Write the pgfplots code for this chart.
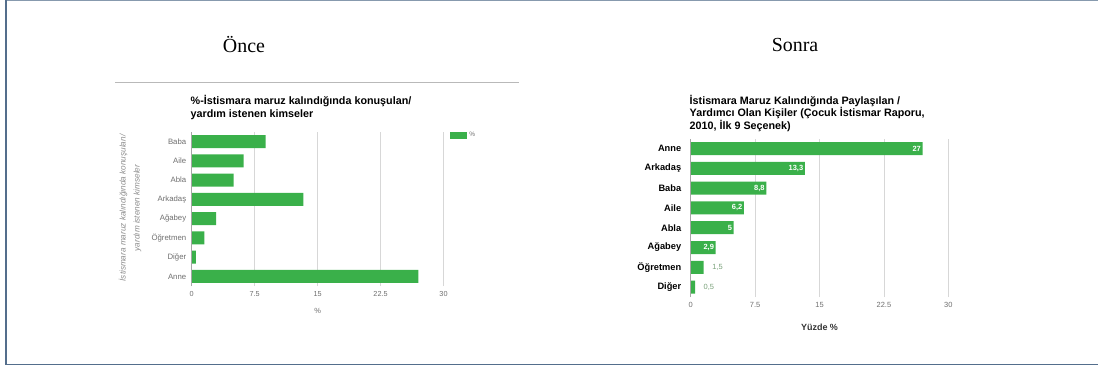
\documentclass[border=0pt]{standalone}
\usepackage{fontspec}
\setmainfont{Liberation Sans}
\newfontfamily\seriffont{Liberation Serif}
\usepackage{pgfplots}
\pgfplotsset{compat=1.18}
\definecolor{bargreen}{RGB}{58,176,74}
\definecolor{framecol}{RGB}{84,110,140}
\definecolor{gridcol}{RGB}{215,215,215}
\definecolor{ticktext}{RGB}{110,110,110}
\definecolor{outlbl}{RGB}{120,160,120}
\begin{document}
\begin{tikzpicture}
\begin{scope}[x=1bp,y=1bp]
\useasboundingbox (0,0) rectangle (1098,366);
% frame
\draw[framecol!70,line width=1.2bp] (6,365.2) -- (1098,365.2);
\draw[framecol,line width=1.5bp] (6,365.5) -- (6,1.5) -- (1098,1.5);
% headings
\node[font=\seriffont\fontsize{20}{22}\selectfont] at (244,321) {Önce};
\node[font=\seriffont\fontsize{20}{22}\selectfont] at (795,321) {Sonra};
\draw[gray!55,line width=1.8bp] (115,283.5) -- (519,283.5);
\node[rotate=90, align=center, text=ticktext!80, font=\itshape\fontsize{8.2}{14}\selectfont] at (130,158)
  {İstismara maruz kalındığında konuşulan/\\yardım istenen kimseler};
\node[anchor=north west, align=left, inner sep=0pt, font=\bfseries\fontsize{10.8}{13.3}\selectfont] at (190.5,271)
  {\%-İstismara maruz kalındığında konuşulan/\\yardım istenen kimseler};
\node[anchor=north west, align=left, inner sep=0pt, font=\bfseries\fontsize{10.8}{12.6}\selectfont] at (689.5,271)
  {İstismara Maruz Kalındığında Paylaşılan /\\Yardımcı Olan Kişiler (Çocuk İstismar Raporu,\\2010, İlk 9 Seçenek)};
\end{scope}

% ---------- left chart ----------
\begin{axis}[
  at={(191.7bp,80bp)}, anchor=south west,
  scale only axis, width=251.8bp, height=154bp,
  xmin=0, xmax=30, ymin=-0.5, ymax=7.5,
  xtick={0,7.5,15,22.5,30},
  xticklabels={0,7.5,15,22.5,30},
  ytick={0,...,7},
  yticklabels={Anne,Diğer,Öğretmen,Ağabey,Arkadaş,Abla,Aile,Baba},
  axis line style={draw=none},
  tick style={draw=none},
  xmajorgrids, grid style={gridcol,line width=0.8bp},
  xticklabel style={font=\fontsize{7.3}{8}\selectfont, text=ticktext, yshift=-2bp},
  yticklabel style={font=\fontsize{7.8}{8}\selectfont, text=ticktext, xshift=-2bp},
  xlabel={\%}, xlabel style={font=\fontsize{7.5}{8}\selectfont, text=ticktext, yshift=-5bp},
  legend style={at={(1.027,1.01)}, anchor=north west, draw=none, fill=none,
    font=\fontsize{6.5}{7}\selectfont, text=ticktext, inner sep=0pt, outer sep=0pt},
  legend image code/.code={\fill[bargreen] (0bp,-3.5bp) rectangle (17bp,3.5bp);},
  clip=false,
]
\addplot[xbar, bar width=13bp, bar shift=0pt, fill=bargreen, draw=none] coordinates {
  (8.8,7) (6.2,6) (5,5) (13.3,4) (2.9,3) (1.5,2) (0.5,1) (27,0)};
\addlegendentry{\%}
\draw[gray!70,line width=0.8bp] (axis cs:0,-0.5) -- (axis cs:0,7.5);
\end{axis}

% ---------- right chart ----------
\begin{axis}[
  at={(690.7bp,69bp)}, anchor=south west,
  scale only axis, width=257.6bp, height=158.4bp,
  xmin=0, xmax=30, ymin=-0.5, ymax=7.5,
  xtick={0,7.5,15,22.5,30},
  xticklabels={0,7.5,15,22.5,30},
  ytick={0,...,7},
  yticklabels={Diğer,Öğretmen,Ağabey,Abla,Aile,Baba,Arkadaş,Anne},
  axis line style={draw=none},
  tick style={draw=none},
  xmajorgrids, grid style={gridcol,line width=0.8bp},
  xticklabel style={font=\fontsize{7.5}{8}\selectfont, text=ticktext, yshift=-2bp},
  yticklabel style={font=\bfseries\fontsize{9.3}{10}\selectfont, xshift=-6bp},
  xlabel={Yüzde \%}, xlabel style={font=\bfseries\fontsize{9}{10}\selectfont, text=black!80, yshift=-9bp},
  clip=false,
]
\addplot[xbar, bar width=13bp, bar shift=0pt, fill=bargreen, draw=none] coordinates {
  (27,7) (13.3,6) (8.8,5) (6.2,4) (5,3) (2.9,2) (1.5,1) (0.5,0)};
\addplot[only marks, mark=none, point meta=explicit symbolic,
  nodes near coords, nodes near coords style={anchor=east, text=white,
  font=\bfseries\fontsize{7.5}{8}\selectfont, inner sep=1.5bp}]
  table[meta=lab] {
  x y lab
  27 7 27
  13.3 6 13,3
  8.8 5 8,8
  6.2 4 6,2
  5 3 5
  2.9 2 2,9
  };
\addplot[only marks, mark=none, point meta=explicit symbolic,
  nodes near coords, nodes near coords style={anchor=west, text=outlbl,
  font=\fontsize{7.5}{8}\selectfont, xshift=7bp, inner sep=1.5bp}]
  table[meta=lab] {
  x y lab
  1.5 1 1,5
  0.5 0 0,5
  };
\draw[gray!70,line width=0.8bp] (axis cs:0,-0.5) -- (axis cs:0,7.5);
\end{axis}
\end{tikzpicture}
\end{document}
